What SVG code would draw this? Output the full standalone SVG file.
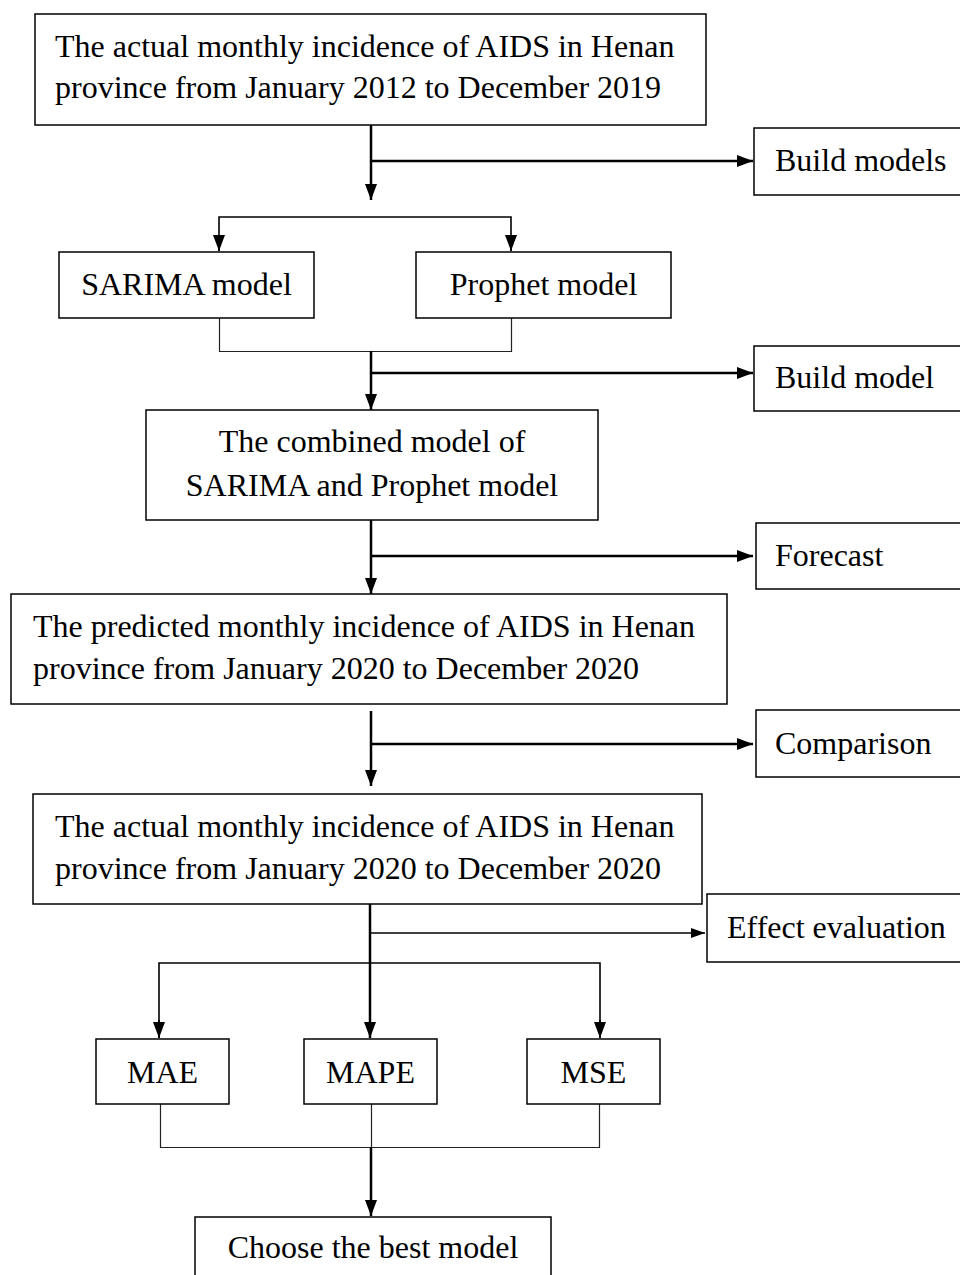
<svg xmlns="http://www.w3.org/2000/svg" width="960" height="1275" viewBox="0 0 960 1275">
<style>
.box{fill:#fff;stroke:#000;stroke-width:1.5}
.t{font-family:"Liberation Serif","Times New Roman",serif;font-size:32px;fill:#000}
.c{text-anchor:middle}
.thick{stroke:#000;stroke-width:2.5;fill:none}
.thin{stroke:#222;stroke-width:1.2;fill:none}
.mid{stroke:#000;stroke-width:1.6;fill:none}
</style>
<defs>
<marker id="ah" markerUnits="userSpaceOnUse" markerWidth="16" markerHeight="12" refX="16" refY="6" orient="auto"><path d="M0,0 L16,6 L0,12 Z" fill="#000"/></marker>
<marker id="ahs" markerUnits="userSpaceOnUse" markerWidth="14" markerHeight="10" refX="14" refY="5" orient="auto"><path d="M0,0 L14,5 L0,10 Z" fill="#000"/></marker>
</defs>
<rect width="960" height="1275" fill="#fff"/>
<g id="connectors">
<path class="thick" d="M371,125 V200" marker-end="url(#ah)"/>
<path class="thick" d="M371,161 H753" marker-end="url(#ah)"/>
<path class="mid" d="M219,251 V217 H511 V251"/>
<path class="mid" d="M219,235 V251" marker-end="url(#ah)"/>
<path class="mid" d="M511,235 V251" marker-end="url(#ah)"/>
<path class="thin" d="M219.5,318 V351.5 H511.5 V318"/>
<path class="thick" d="M371,351 V410" marker-end="url(#ah)"/>
<path class="thick" d="M371,373 H753" marker-end="url(#ah)"/>
<path class="thick" d="M371,520 V594" marker-end="url(#ah)"/>
<path class="thick" d="M371,556 H753" marker-end="url(#ah)"/>
<path class="thick" d="M371,711 V786" marker-end="url(#ah)"/>
<path class="thick" d="M371,744 H753" marker-end="url(#ah)"/>
<path class="thick" d="M370,904 V1038" marker-end="url(#ah)"/>
<path class="mid" d="M370,933 H705" marker-end="url(#ahs)"/>
<path class="mid" d="M159,1038 V963 H600 V1038"/>
<path class="mid" d="M159,1020 V1038" marker-end="url(#ah)"/>
<path class="mid" d="M600,1020 V1038" marker-end="url(#ah)"/>
<path class="thin" d="M160.5,1104 V1147.5 H599.5 V1104"/>
<path class="thin" d="M371.5,1104 V1147"/>
<path class="thick" d="M371,1147 V1216" marker-end="url(#ah)"/>
</g>
<g id="n1"><rect class="box" x="35" y="14" width="671" height="111"/>
<text class="t" x="55" y="57">The actual monthly incidence of AIDS in Henan</text>
<text class="t" x="55" y="98">province from January 2012 to December 2019</text></g>
<g id="n_build_models"><rect class="box" x="754" y="128" width="210" height="67"/><text class="t" x="775" y="171">Build models</text></g>
<g id="n_sarima"><rect class="box" x="59" y="252" width="255" height="66"/><text class="t c" x="186.5" y="295">SARIMA model</text></g>
<g id="n_prophet"><rect class="box" x="416" y="252" width="255" height="66"/><text class="t c" x="543.5" y="295">Prophet model</text></g>
<g id="n_build_model"><rect class="box" x="754" y="346" width="210" height="65"/><text class="t" x="775" y="388">Build model</text></g>
<g id="n_combined"><rect class="box" x="146" y="410" width="452" height="110"/>
<text class="t c" x="372" y="452">The combined model of</text>
<text class="t c" x="372" y="496">SARIMA and Prophet model</text></g>
<g id="n_forecast"><rect class="box" x="756" y="523" width="208" height="66"/><text class="t" x="775" y="566">Forecast</text></g>
<g id="n_predicted"><rect class="box" x="11" y="594" width="716" height="110"/>
<text class="t" x="33" y="637">The predicted monthly incidence of AIDS in Henan</text>
<text class="t" x="33" y="679">province from January 2020 to December 2020</text></g>
<g id="n_comparison"><rect class="box" x="756" y="710" width="208" height="67"/><text class="t" x="775" y="754">Comparison</text></g>
<g id="n_actual2020"><rect class="box" x="33" y="794" width="669" height="110"/>
<text class="t" x="55" y="837">The actual monthly incidence of AIDS in Henan</text>
<text class="t" x="55" y="879">province from January 2020 to December 2020</text></g>
<g id="n_effect"><rect class="box" x="707" y="894" width="257" height="68"/><text class="t" x="727" y="938">Effect evaluation</text></g>
<g id="n_mae"><rect class="box" x="96" y="1039" width="133" height="65"/><text class="t c" x="162.5" y="1083">MAE</text></g>
<g id="n_mape"><rect class="box" x="304" y="1039" width="133" height="65"/><text class="t c" x="370.5" y="1083">MAPE</text></g>
<g id="n_mse"><rect class="box" x="527" y="1039" width="133" height="65"/><text class="t c" x="593.5" y="1083">MSE</text></g>
<g id="n_choose"><rect class="box" x="195" y="1217" width="356" height="70"/><text class="t c" x="373" y="1258">Choose the best model</text></g>
</svg>
